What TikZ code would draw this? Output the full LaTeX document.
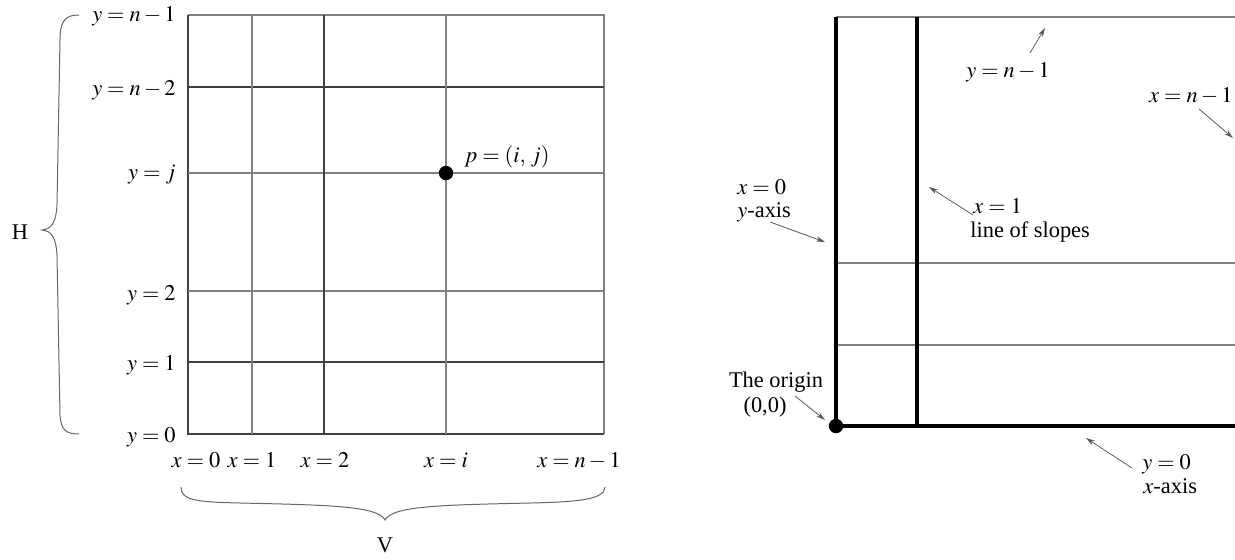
\documentclass[tikz,border=0pt]{standalone}
\usepackage{mathptmx}
\usepackage[no-math]{fontspec}
\setmainfont{Liberation Serif}
\usetikzlibrary{arrows.meta}
\begin{document}
\begin{tikzpicture}[x=0.5pt,y=-0.5pt,
  font=\fontsize{11.2}{13}\selectfont,
  dk/.style={black!75,line width=0.6pt},
  lt/.style={black!50,line width=0.6pt},
  axisline/.style={black,line width=2.2pt},
  bracestyle/.style={black!60,line width=0.5pt},
  ann/.style={black!65,line width=0.4pt,-{Stealth[length=4.5pt,width=2.6pt]}},
  lbl/.style={inner sep=0pt}]
\useasboundingbox (0,0) rectangle (1235,559);

% ---------------- left grid ----------------
\draw[lt] (188,15) -- (604,15) -- (604,434);
\draw[dk] (188,15) -- (188,434) -- (604,434);
\draw[dk] (188,87) -- (604,87);
\draw[lt] (188,173) -- (604,173);
\draw[lt] (188,291) -- (604,291);
\draw[dk] (188,362) -- (604,362);
\draw[lt] (252,15) -- (252,434);
\draw[dk] (324,15) -- (324,434);
\draw[lt] (446,15) -- (446,434);
\fill (446,173) circle[radius=3.6pt];

\node[lbl,anchor=base east] (yn1) at (176,21) {$y=n-1$};
\node[lbl,anchor=base east] (yn2) at (176,95) {$y=n-2$};
\node[lbl,anchor=base east] (yj) at (176,179) {$y=j$};
\node[lbl,anchor=base east] (y2) at (176,300) {$y=2$};
\node[lbl,anchor=base east] (y1) at (176,370) {$y=1$};
\node[lbl,anchor=base east] (y0) at (176,442) {$y=0$};

\node[lbl,anchor=base] (x0) at (196,467) {$x=0$};
\node[lbl,anchor=base] (x1) at (252,467) {$x=1$};
\node[lbl,anchor=base] (x2) at (325,467) {$x=2$};
\node[lbl,anchor=base] (xi) at (446,467) {$x=i$};
\node[lbl,anchor=base] (xn1) at (579,467) {$x=n-1$};

\node[lbl,anchor=base west] (p) at (464,162) {$p=(i,\,j)$};

% braces
\draw[bracestyle] (79,15) .. controls (66,15) and (60,20) .. (60,40)
  -- (57,205) .. controls (56,222) and (52,229) .. (42,230)
  .. controls (52,231) and (56,238) .. (57,255)
  -- (60,415) .. controls (61,430) and (66,434) .. (79,434);
\node[lbl] (H) at (20,232) {H};

\draw[bracestyle] (181,487) .. controls (181,500) and (195,502) .. (240,503)
  .. controls (330,505) and (378,506) .. (385,520)
  .. controls (392,506) and (440,505) .. (530,503)
  .. controls (575,502) and (605,500) .. (605,487);
\node[lbl] (V) at (385,545) {V};

% ---------------- right picture ----------------
\draw[lt] (836,17) -- (1235,17);
\draw[lt] (836,263) -- (1235,263);
\draw[lt] (836,345) -- (1235,345);
\draw[axisline] (836,17) -- (836,426) -- (1235,426);
\draw[axisline] (917,17) -- (917,426);
\fill (836,426) circle[radius=3.6pt];

\node[lbl,anchor=base west] (tyn) at (966,77) {$y=n-1$};
\node[lbl,anchor=base east] (txn) at (1233,102) {$x=n-1$};
\node[lbl,anchor=base west] (tx0) at (737,194) {$x=0$};
\node[lbl,anchor=base west] (tya) at (737,217) {$y$-axis};
\node[lbl,anchor=base west] (tx1) at (973,213) {$x=1$};
\node[lbl,anchor=base west] (tls) at (970,237) {line of slopes};
\node[lbl,anchor=base] (tor) at (776,387) {The origin};
\node[lbl,anchor=base] (too) at (765,412) {(0,0)};
\node[lbl,anchor=base west] (ty0) at (1142,469) {$y=0$};
\node[lbl,anchor=base west] (txa) at (1143,493) {$x$-axis};

\coordinate (a1s) at (1030,53);  \coordinate (a1e) at (1045,28);
\coordinate (a2s) at (1199,109); \coordinate (a2e) at (1233,138);
\coordinate (a3s) at (770,222);  \coordinate (a3e) at (825,242);
\coordinate (a4s) at (973,215);  \coordinate (a4e) at (929,187);
\coordinate (a5s) at (795,396);  \coordinate (a5e) at (825,420);
\coordinate (a6s) at (1132,468); \coordinate (a6e) at (1086,438);
\draw[ann] (a1s) -- (a1e);
\draw[ann] (a2s) -- (a2e);
\draw[ann] (a3s) -- (a3e);
\draw[ann] (a4s) -- (a4e);
\draw[ann] (a5s) -- (a5e);
\draw[ann] (a6s) -- (a6e);
\end{tikzpicture}
\end{document}
